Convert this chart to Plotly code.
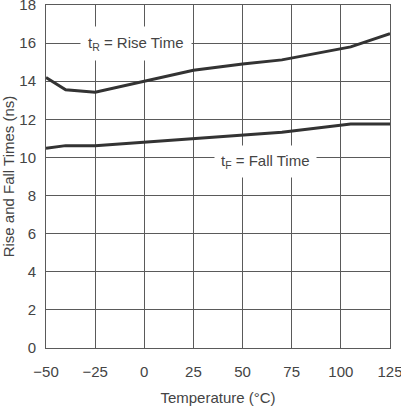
import plotly.graph_objects as go

# Rise / fall time vs temperature
rise_temp = [-50, -40, -25, 0, 25, 50, 70, 105, 125]
rise_ns = [14.2, 13.55, 13.42, 13.98, 14.58, 14.9, 15.12, 15.8, 16.5]

fall_temp = [-50, -40, -25, 0, 25, 50, 70, 105, 125]
fall_ns = [10.48, 10.62, 10.62, 10.8, 10.98, 11.18, 11.32, 11.76, 11.76]

x_ticks = [-50, -25, 0, 25, 50, 75, 100, 125]
x_tick_text = ["\u221250", "\u221225", "0", "25", "50", "75", "100", "125"]
y_ticks = [0, 2, 4, 6, 8, 10, 12, 14, 16, 18]

FONT = "Liberation Sans, Arial, sans-serif"
INK = "#333333"
GRID = "#5a5a5a"
TEXT = "#444444"

fig = go.Figure()

fig.add_trace(go.Scatter(
    x=rise_temp, y=rise_ns, mode="lines",
    line=dict(color=INK, width=3), showlegend=False,
))
fig.add_trace(go.Scatter(
    x=fall_temp, y=fall_ns, mode="lines",
    line=dict(color=INK, width=3), showlegend=False,
))

# ── Curve labels (white boxes knock out the grid) ─────────────────────────
fig.add_annotation(
    x=-4, y=16.0, text="t<sub>R</sub> = Rise Time", showarrow=False,
    bgcolor="white", borderpad=7,
    font=dict(family=FONT, size=15, color=TEXT),
)
fig.add_annotation(
    x=61.8, y=9.8, text="t<sub>F</sub> = Fall Time", showarrow=False,
    bgcolor="white", borderpad=6,
    font=dict(family=FONT, size=15, color=TEXT),
)

fig.update_layout(
    width=401, height=406,
    margin=dict(l=46, r=11, t=5, b=58),
    plot_bgcolor="white", paper_bgcolor="white",
    font=dict(family=FONT, size=15, color=TEXT),
)
fig.update_xaxes(
    range=[-50, 125], tickvals=x_ticks, ticktext=x_tick_text,
    showgrid=True, gridcolor=GRID, gridwidth=1,
    showline=True, linecolor=GRID, linewidth=1, mirror=True,
    zeroline=False, ticks="", ticklabelstandoff=10, automargin=False,
    ticklabeloverflow="allow",
    tickfont=dict(family=FONT, size=15, color=TEXT),
    title=dict(text="Temperature (\u00b0C)", standoff=13,
               font=dict(family=FONT, size=15, color=TEXT)),
)
fig.update_yaxes(
    range=[0, 18], tickvals=y_ticks,
    showgrid=True, gridcolor=GRID, gridwidth=1,
    showline=True, linecolor=GRID, linewidth=1, mirror=True,
    zeroline=False, ticks="", ticklabelstandoff=6, automargin=False,
    ticklabeloverflow="allow",
    tickfont=dict(family=FONT, size=15, color=TEXT),
    title=dict(text="Rise and Fall Times (ns)", standoff=8,
               font=dict(family=FONT, size=15, color=TEXT)),
)

# page body has a default margin; drop it so the figure fills the window
fig.write_html(
    "out.html",
    config={"displayModeBar": False},
    post_script="document.body.style.margin='0';",
)
